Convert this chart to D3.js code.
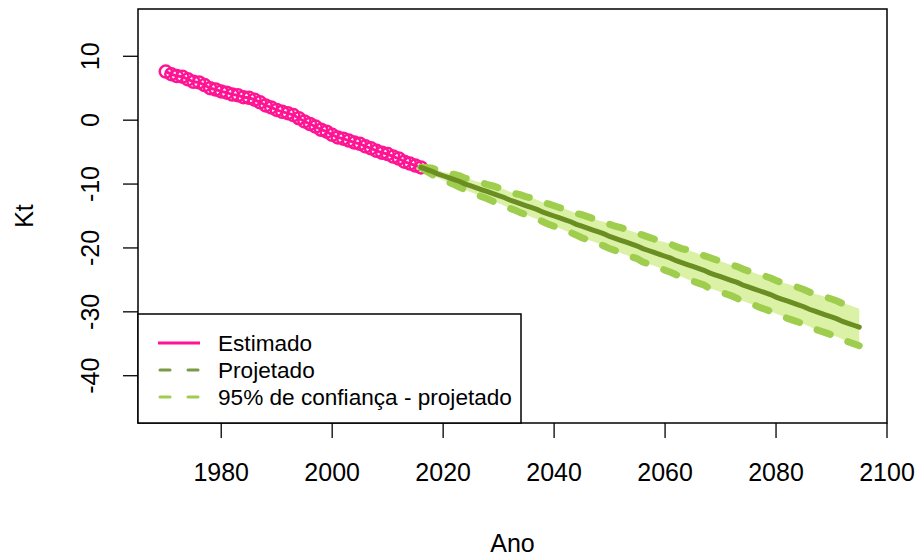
<!DOCTYPE html>
<meta charset="utf-8">
<head>
  <style>
    body { margin: 0; background: #fff; }
    svg text { font-family: "Liberation Sans", Arial, sans-serif; fill: #000; }
  </style>
  <script src="https://d3js.org/d3.v7.min.js"></script>
</head>
<body>
<script>

// estimated Kt, 1970-2016
var estYears = d3.range(1970, 2017);
var estKt = [7.6, 7.2, 6.9, 6.8, 6.4, 6.0, 5.9, 5.5, 5.0, 4.8,
  4.5, 4.3, 4.0, 3.9, 3.6, 3.5, 3.2, 2.8, 2.3, 2.0,
  1.6, 1.3, 1.1, 0.8, 0.3, -0.2, -0.6, -1.0, -1.5, -1.8,
  -2.3, -2.7, -2.9, -3.2, -3.5, -3.7, -4.1, -4.4, -4.8, -5.1,
  -5.3, -5.7, -6.0, -6.5, -6.8, -7.1, -7.4];

// projected Kt, 2016-2095
var projYears = d3.range(2016, 2096);
var projKt = [-7.4, -7.7, -8.0, -8.4, -8.7, -9.0, -9.3, -9.6, -10.0, -10.3,
  -10.6, -10.9, -11.2, -11.5, -11.8, -12.1, -12.5, -12.8, -13.1, -13.4,
  -13.7, -14.0, -14.4, -14.7, -15.0, -15.3, -15.6, -15.9, -16.3, -16.6,
  -16.9, -17.2, -17.5, -17.8, -18.2, -18.5, -18.8, -19.1, -19.4, -19.7,
  -20.1, -20.4, -20.7, -21.0, -21.3, -21.6, -22.0, -22.3, -22.6, -22.9,
  -23.2, -23.5, -23.9, -24.2, -24.5, -24.8, -25.1, -25.4, -25.8, -26.1,
  -26.4, -26.7, -27.0, -27.3, -27.7, -28.0, -28.3, -28.6, -28.9, -29.2,
  -29.6, -29.9, -30.2, -30.5, -30.8, -31.1, -31.5, -31.8, -32.1, -32.4];
var projUpper = [-7.4, -7.4, -7.5, -7.8, -8.1, -8.3, -8.5, -8.7, -9.1, -9.3,
  -9.6, -9.8, -10.1, -10.3, -10.6, -10.8, -11.2, -11.5, -11.7, -12.0,
  -12.2, -12.5, -12.9, -13.1, -13.4, -13.7, -13.9, -14.2, -14.6, -14.8,
  -15.1, -15.4, -15.7, -15.9, -16.3, -16.6, -16.8, -17.1, -17.4, -17.7,
  -18.0, -18.3, -18.6, -18.9, -19.1, -19.4, -19.8, -20.1, -20.3, -20.6,
  -20.9, -21.2, -21.5, -21.8, -22.1, -22.4, -22.7, -22.9, -23.3, -23.6,
  -23.9, -24.2, -24.4, -24.7, -25.1, -25.4, -25.6, -25.9, -26.2, -26.5,
  -26.9, -27.2, -27.4, -27.7, -28.0, -28.3, -28.7, -28.9, -29.2, -29.5];
var projLower = [-7.4, -8.0, -8.5, -9.0, -9.4, -9.7, -10.1, -10.5, -10.9, -11.3,
  -11.6, -12.0, -12.3, -12.7, -13.0, -13.4, -13.8, -14.1, -14.5, -14.8,
  -15.2, -15.5, -15.9, -16.3, -16.6, -16.9, -17.3, -17.6, -18.0, -18.4,
  -18.7, -19.0, -19.3, -19.7, -20.1, -20.4, -20.8, -21.1, -21.4, -21.7,
  -22.2, -22.5, -22.8, -23.1, -23.5, -23.8, -24.2, -24.5, -24.9, -25.2,
  -25.5, -25.8, -26.3, -26.6, -26.9, -27.2, -27.5, -27.9, -28.3, -28.6,
  -28.9, -29.3, -29.6, -29.9, -30.3, -30.6, -31.0, -31.3, -31.6, -31.9,
  -32.3, -32.7, -33.0, -33.3, -33.6, -33.9, -34.3, -34.7, -35.0, -35.3];

var xTicks = [1980, 2000, 2020, 2040, 2060, 2080, 2100];
var yTicks = [10, 0, -10, -20, -30, -40];
var legendLabels = ["Estimado", "Projetado", "95% de confiança - projetado"];

var width = 916, height = 556;
var box = {left: 138, right: 887, top: 9, bottom: 423};

var svg = d3.select("body").append("svg")
    .attr("width", width)
    .attr("height", height);

var x = d3.scaleLinear().domain([1965, 2100]).range([box.left, box.right]);
var y = d3.scaleLinear().domain([-47.4, 17.4]).range([box.bottom, box.top]);

var pink = "#ff1493", dark = "#6b8e23", light = "#9fcd4e", fill = "#daf1a6";

var est = estYears.map(function(d, i) { return [d, estKt[i]]; });
var proj = projYears.map(function(d, i) { return [d, projKt[i], projUpper[i], projLower[i]]; });

// confidence band
svg.append("path")
    .datum(proj)
    .attr("fill", fill)
    .attr("d", d3.area()
      .x(function(d) { return x(d[0]); })
      .y0(function(d) { return y(d[3]); })
      .y1(function(d) { return y(d[2]); }));

// estimated: line + open circles
svg.append("path")
    .datum(est)
    .attr("fill", "none")
    .attr("stroke", pink)
    .attr("stroke-width", 3)
    .attr("d", d3.line()
      .x(function(d) { return x(d[0]); })
      .y(function(d) { return y(d[1]); }));

svg.append("g").selectAll("circle")
    .data(est)
    .enter().append("circle")
      .attr("cx", function(d) { return x(d[0]); })
      .attr("cy", function(d) { return y(d[1]); })
      .attr("r", 6)
      .attr("fill", "none")
      .attr("stroke", pink)
      .attr("stroke-width", 2.5);

// bounds, dashed
[2, 3].forEach(function(k) {
  svg.append("path")
      .datum(proj)
      .attr("fill", "none")
      .attr("stroke", light)
      .attr("stroke-width", 7)
      .attr("stroke-linecap", "round")
      .attr("stroke-dasharray", "14,19")
      .attr("d", d3.line()
        .x(function(d) { return x(d[0]); })
        .y(function(d) { return y(d[k]); }));
});

// projected line
svg.append("path")
    .datum(proj)
    .attr("fill", "none")
    .attr("stroke", dark)
    .attr("stroke-width", 5)
    .attr("stroke-linecap", "round")
    .attr("d", d3.line()
      .x(function(d) { return x(d[0]); })
      .y(function(d) { return y(d[1]); }));

// plot box
svg.append("rect")
    .attr("x", box.left).attr("y", box.top)
    .attr("width", box.right - box.left).attr("height", box.bottom - box.top)
    .attr("fill", "none").attr("stroke", "#000").attr("stroke-width", 1.5);

// axes
var xAxis = svg.append("g");
xAxis.selectAll("line").data(xTicks).enter().append("line")
    .attr("x1", function(d) { return x(d); }).attr("x2", function(d) { return x(d); })
    .attr("y1", box.bottom).attr("y2", box.bottom + 15)
    .attr("stroke", "#000").attr("stroke-width", 1.3);
xAxis.selectAll("text").data(xTicks).enter().append("text")
    .attr("x", function(d) { return x(d); })
    .attr("y", 481)
    .attr("text-anchor", "middle")
    .style("font-size", "25px")
    .text(function(d) { return d; });

var yAxis = svg.append("g");
yAxis.selectAll("line").data(yTicks).enter().append("line")
    .attr("x1", box.left - 15).attr("x2", box.left)
    .attr("y1", function(d) { return y(d); }).attr("y2", function(d) { return y(d); })
    .attr("stroke", "#000").attr("stroke-width", 1.3);
yAxis.selectAll("text").data(yTicks).enter().append("text")
    .attr("transform", function(d) { return "translate(99," + y(d) + ") rotate(-90)"; })
    .attr("text-anchor", "middle")
    .style("font-size", "25px")
    .text(function(d) { return d; });

svg.append("text")
    .attr("x", (box.left + box.right) / 2).attr("y", 552)
    .attr("text-anchor", "middle")
    .style("font-size", "25px")
    .text("Ano");

svg.append("text")
    .attr("transform", "translate(33," + ((box.top + box.bottom) / 2) + ") rotate(-90)")
    .attr("text-anchor", "middle")
    .style("font-size", "25px")
    .text("Kt");

// legend
var lg = svg.append("g");
lg.append("rect")
    .attr("x", box.left).attr("y", 314)
    .attr("width", 521 - box.left).attr("height", box.bottom - 314)
    .attr("fill", "#fff").attr("stroke", "#000").attr("stroke-width", 1.5);

var legendStyles = [
  {color: pink, dash: null},
  {color: "#7a9a48", dash: "10,18"},
  {color: light, dash: "10,18"}
];
var row = lg.selectAll(".legend").data(legendLabels).enter().append("g")
    .attr("class", "legend")
    .attr("transform", function(d, i) { return "translate(0," + (343 + i * 27) + ")"; });
row.append("line")
    .attr("x1", function(d, i) { return legendStyles[i].dash ? 160 : 158; })
    .attr("x2", function(d, i) { return legendStyles[i].dash ? 199 : 200; })
    .attr("stroke", function(d, i) { return legendStyles[i].color; })
    .attr("stroke-width", 3)
    .attr("stroke-linecap", function(d, i) { return legendStyles[i].dash ? "round" : "butt"; })
    .attr("stroke-dasharray", function(d, i) { return legendStyles[i].dash; });
row.append("text")
    .attr("x", 218).attr("y", 8)
    .style("font-size", "22.6px")
    .text(function(d) { return d; });

</script>
</body>
